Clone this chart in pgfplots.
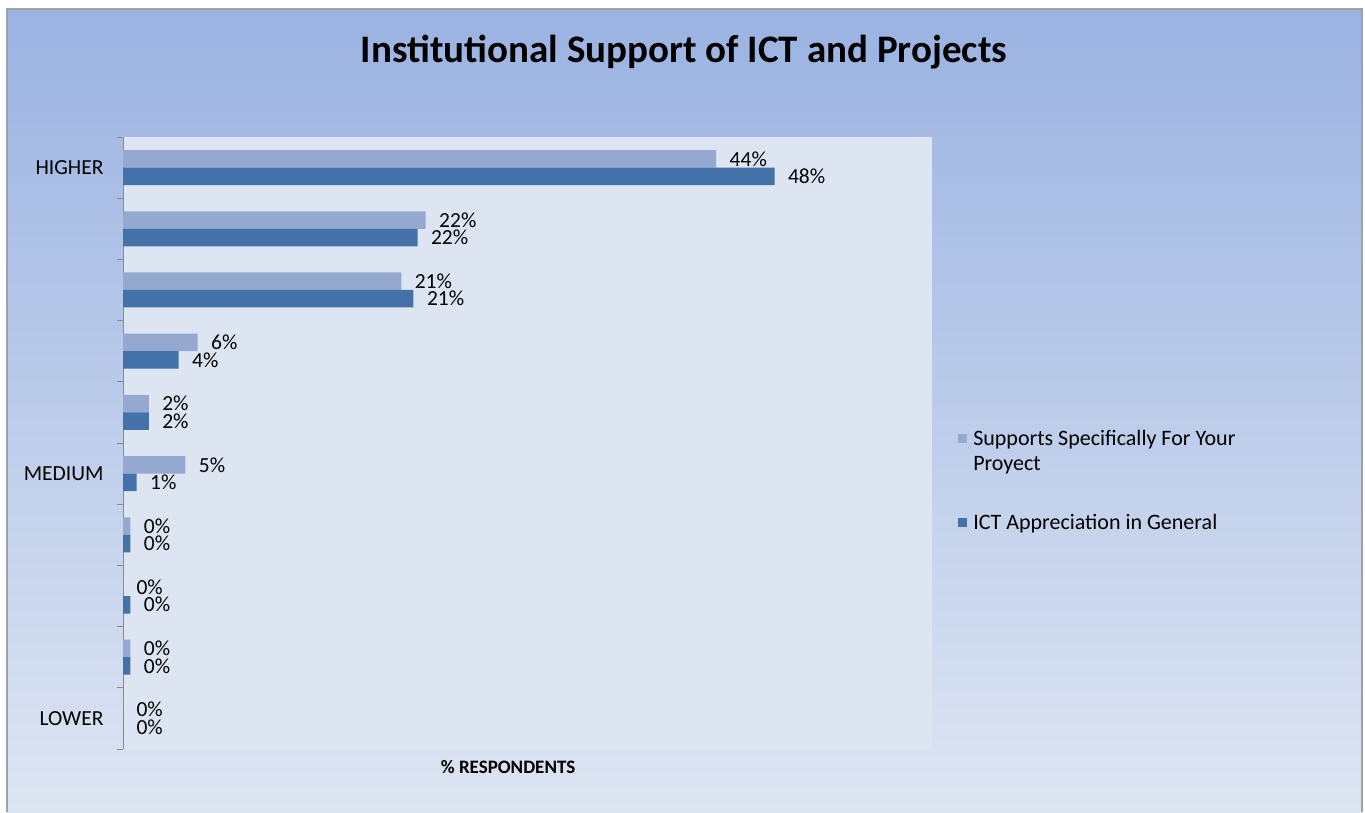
\documentclass[border=0pt]{standalone}
\usepackage{fontspec}
\setmainfont{Carlito}
\usepackage{pgfplots}
\usepackage{pgfplotstable}
\pgfplotsset{compat=1.18}

\definecolor{bgtop}{HTML}{9BB3E2}
\definecolor{bgbot}{HTML}{DDE5F2}
\definecolor{plotbg}{HTML}{DDE5F2}
\definecolor{lightbar}{HTML}{94A8D0}
\definecolor{darkbar}{HTML}{4571A9}
\definecolor{axisgray}{HTML}{8A8A8A}

\pgfplotsset{
  squareleg/.style={legend image code/.code={%
    \path[draw=none,fill=none] (0pt,-4.5pt) rectangle (13pt,4.5pt);
    \fill[##1] (0pt,-4.5pt) rectangle (9pt,4.5pt);}},
  squarelegtop/.style={legend image code/.code={%
    \path[draw=none,fill=none] (0pt,-17pt) rectangle (13pt,17pt);
    \fill[##1] (0pt,8pt) rectangle (9pt,17pt);}},
}

% y: 10 = top category (HIGHER), 1 = bottom category (LOWER)
\pgfplotstableread{
y val lab
10 43.7 44
9 22.3 22
8 20.5 21
7 5.5 6
6 1.9 2
5 4.6 5
4 0.55 0
3 0 0
2 0.55 0
1 0 0
}\supports

\pgfplotstableread{
y val lab
10 48.0 48
9 21.7 22
8 21.4 21
7 4.1 4
6 1.9 2
5 1.0 1
4 0.55 0
3 0.55 0
2 0.55 0
1 0 0
}\ictgeneral

\begin{document}
\begin{tikzpicture}
\useasboundingbox (0pt,0pt) rectangle (1365pt,812pt);
\fill[white] (0pt,0pt) rectangle (1365pt,812pt);
\shade[top color=bgtop,bottom color=bgbot] (7pt,0pt) rectangle (1362pt,803pt);
\draw[axisgray!80,line width=1.5pt] (7pt,0pt) -- (7pt,803pt) -- (1362pt,803pt) -- (1362pt,0pt);
\begin{axis}[
  at={(123pt,63pt)}, anchor=south west,
  scale only axis, width=809pt, height=612pt,
  axis background/.style={fill=plotbg},
  xbar, bar width=17.5pt,
  xmin=0, xmax=59.6, ymin=0.5, ymax=10.5,
  axis y line*=left, axis x line*=bottom,
  x axis line style={draw=none},
  y axis line style={draw=axisgray, line width=0.8pt},
  xtick=\empty,
  ytick={1,5,10}, yticklabels={LOWER,MEDIUM,HIGHER},
  minor ytick={0.5,1.5,...,10.5},
  major tick length=0pt, minor tick length=6pt,
  tick align=outside,
  minor tick style={axisgray, line width=0.8pt},
  yticklabel style={font=\fontsize{21.5}{25}\selectfont, xshift=-16pt},
  title={\textbf{Institutional Support of ICT and Projects}},
  title style={font=\fontsize{39}{46}\selectfont, at={(axis description cs:0.6934,1.1127)}, anchor=base},
  xlabel={\textbf{\% RESPONDENTS}},
  xlabel style={font=\fontsize{19}{23}\selectfont, at={(axis description cs:0.476,-0.0294)}, anchor=center},
  point meta=explicit symbolic,
  nodes near coords={\pgfplotspointmeta\%},
  nodes near coords style={anchor=west, font=\fontsize{21.5}{25}\selectfont, xshift=10pt, inner ysep=0pt, text=black},
  legend style={draw=none, fill=none, font=\fontsize{22}{25}\selectfont,
    at={(axis description cs:1.0285,0.528)}, anchor=north west,
    row sep=38pt, nodes={align=left}},
  legend cell align=left,
]
\addplot[draw=none, fill=lightbar, bar shift=8.75pt, squarelegtop]
  table[x=val, y=y, meta=lab] {\supports};
\addlegendentry{Supports Specifically For Your\\Proyect}
\addplot[draw=none, fill=darkbar, bar shift=-8.75pt, squareleg]
  table[x=val, y=y, meta=lab] {\ictgeneral};
\addlegendentry{ICT Appreciation in General}
\end{axis}
\end{tikzpicture}
\end{document}
